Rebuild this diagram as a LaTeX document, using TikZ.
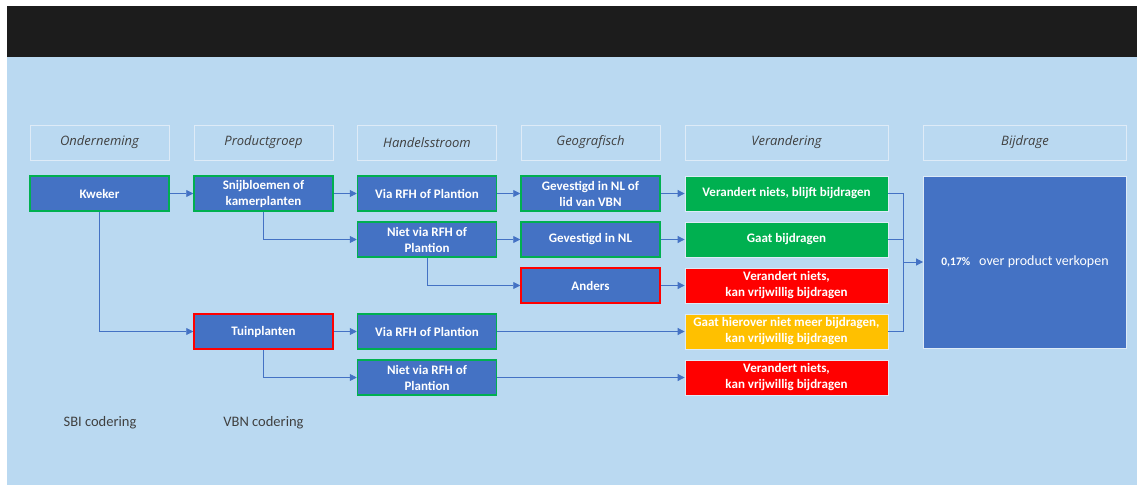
\documentclass[tikz,border=0pt]{standalone}
\usepackage{fontspec}
\setmainfont{Carlito}
\newfontfamily\headfont{Open Sans}
\usepackage{xcolor}
\usetikzlibrary{arrows.meta}

\definecolor{skyback}{RGB}{186,217,241}
\definecolor{topbar}{RGB}{28,28,28}
\definecolor{boxblue}{RGB}{68,114,196}
\definecolor{okgreen}{RGB}{0,176,80}
\definecolor{nored}{RGB}{255,0,0}
\definecolor{maybeyellow}{RGB}{255,192,0}
\definecolor{headgrey}{RGB}{64,64,64}
\definecolor{paleline}{RGB}{222,235,247}

\tikzset{
	headbox/.style={draw=paleline, line width=0.8pt, fill=skyback, minimum width=139pt, minimum height=35pt,
		inner sep=0pt, font=\headfont\itshape\fontsize{13}{15}\selectfont, text=headgrey},
	flowbox/.style={draw=okgreen, line width=1.5pt, fill=boxblue, minimum width=139pt, minimum height=35pt,
		inner sep=0pt, align=center, text=white, font=\bfseries\fontsize{13}{16}\selectfont},
	badflow/.style={flowbox, draw=nored},
	endbox/.style={draw=paleline, line width=0.8pt, minimum width=203pt, minimum height=35pt,
		inner sep=0pt, align=center, text=white, font=\bfseries\fontsize{13}{16}\selectfont},
	line/.style={draw=boxblue, line width=0.8pt},
	flow/.style={line, -{Triangle[length=7pt,width=7pt]}},
}

\begin{document}
\begin{tikzpicture}[x=1pt, y=-1pt]
		\useasboundingbox (0,0) rectangle (1137,485);
		\fill[white] (0,0) rectangle (1137,485);
		\fill[topbar] (7,6) rectangle (1137,57);
		\fill[skyback] (7,57) rectangle (1137,485);

		% kolomkoppen
		\node[headbox] (honder) at (99.5,142.5) {Onderneming};
		\node[headbox] (hprod) at (263.5,142.5) {Productgroep};
		\node[headbox] (hhandel) at (427,142.5) {Handelsstroom};
		\node[headbox] (hgeo) at (590.5,142.5) {Geografisch};
		\node[headbox, minimum width=203pt] (hverand) at (786.5,142.5) {Verandering};
		\node[headbox, minimum width=203pt] (hbijdr) at (1025,142.5) {Bijdrage};

		% onderneming en productgroep
		\node[flowbox] (kweker) at (99.5,193.5) {Kweker};
		\node[flowbox] (snij) at (263.5,193.5) {Snijbloemen of\\kamerplanten};
		\node[badflow] (tuin) at (263.5,331.5) {Tuinplanten};

		% handelsstroom
		\node[flowbox] (viaA) at (427,193.5) {Via RFH of Plantion};
		\node[flowbox] (nietA) at (427,239.5) {Niet via RFH of\\Plantion};
		\node[flowbox] (viaB) at (427,331.5) {Via RFH of Plantion};
		\node[flowbox] (nietB) at (427,377.5) {Niet via RFH of\\Plantion};

		% geografisch
		\node[flowbox] (nlvbn) at (590.5,193.5) {Gevestigd in NL of\\lid van VBN};
		\node[flowbox] (nl) at (590.5,239.5) {Gevestigd in NL};
		\node[badflow] (anders) at (590.5,285.5) {Anders};

		% verandering
		\node[endbox, fill=okgreen] (blijft) at (786.5,193.5) {Verandert niets, blijft bijdragen};
		\node[endbox, fill=okgreen] (gaat) at (786.5,239.5) {Gaat bijdragen};
		\node[endbox, fill=nored] (vrijA) at (786.5,285.5) {Verandert niets,\\kan vrijwillig bijdragen};
		\node[endbox, fill=maybeyellow] (hierover) at (786.5,331.5) {Gaat hierover niet meer bijdragen,\\kan vrijwillig bijdragen};
		\node[endbox, fill=nored] (vrijB) at (786.5,377.5) {Verandert niets,\\kan vrijwillig bijdragen};

		% bijdrage
		\node[endbox, fill=boxblue, minimum height=172pt, font=\fontsize{14}{16}\selectfont] (bijdrage) at (1025,262)
			{{\bfseries\fontsize{11.5}{13}\selectfont 0,17\%}\hspace{9pt}over product verkopen};

		\node[font=\fontsize{14.5}{16}\selectfont, text=headgrey] (sbi) at (100,423) {SBI codering};
		\node[font=\fontsize{14.5}{16}\selectfont, text=headgrey] (vbn) at (263.5,423) {VBN codering};

		% pijlen
		\draw[flow] (kweker) -- (snij);
		\draw[flow] (kweker.south) |- (tuin.west);
		\draw[flow] (snij) -- (viaA);
		\draw[flow] (snij.south) |- (nietA.west);
		\draw[flow] (tuin) -- (viaB);
		\draw[flow] (tuin.south) |- (nietB.west);
		\draw[flow] (viaA) -- (nlvbn);
		\draw[flow] (nietA) -- (nl);
		\draw[flow] (nietA.south) |- (anders.west);
		\draw[flow] (nlvbn) -- (blijft);
		\draw[flow] (nl) -- (gaat);
		\draw[flow] (anders) -- (vrijA);
		\draw[flow] (viaB) -- (hierover);
		\draw[flow] (nietB) -- (vrijB);

		\coordinate (bus) at (903,262);
		\draw[line] (blijft.east) -| (bus);
		\draw[line] (gaat.east) -| (bus);
		\draw[line] (hierover.east) -| (bus);
		\draw[flow] (bus) -- (bijdrage.west);
	\end{tikzpicture}
\end{document}
